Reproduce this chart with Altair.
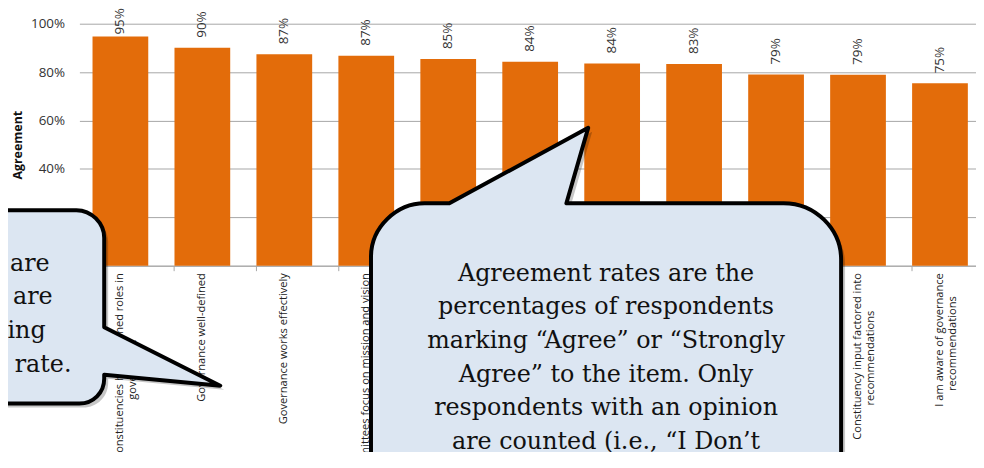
import altair as alt
import pandas as pd

NB = "\u00a0"
ZW = "\u200b"

# ---- data ----
line1 = [
    "Constituencies have defined roles in",
    "Governance well-defined",
    "Governance works effectively",
    "Committees focus on mission and vision",
    "Governance process is transparent",
    "Committee charges are clear",
    "Committees are representative",
    "Communication about governance is effective",
    "Governance structure is appropriate",
    "Constituency input factored into",
    "I am aware of governance",
]
line2 = ["governance", "", "", "", "", "", "", "", "", "recommendations", "recommendations"]
line2_pad = [23, 0, 0, 0, 0, 0, 0, 0, 0, 13, 8]
values = [94.7, 90.1, 87.4, 86.8, 85.4, 84.3, 83.6, 83.4, 79.0, 78.9, 75.4]

callout_big = [
    "Agreement rates are the",
    "percentages of respondents",
    "marking \u201cAgree\u201d or \u201cStrongly",
    "Agree\u201d to the item. Only",
    "respondents with an opinion",
    "are counted (i.e., \u201cI Don\u2019t",
    "Know\u201d responses are excluded).",
]
callout_left = [
    "The items are",
    "sorted so they are",
    "ordered by decreasing",
    "agreement rate.",
]
callout_left_end = [-30, -27, -34, -8]  # right end of each visible line

items = [a + ("|" + b + NB * p + ZW if b else "") for a, b, p in zip(line1, line2, line2_pad)]
df = pd.DataFrame({"item": items, "value": values})

ORANGE = "#E36C0A"
GRID = "#a6a6a6"
FILL = "#dce6f2"

x_enc = alt.X(
    "item:N",
    sort=items,
    scale=alt.Scale(paddingInner=0.32, paddingOuter=0.16),
    axis=alt.Axis(
        title=None,
        labelAngle=270,
        labelFont="Open Sans",
        labelFontSize=11.2,
        labelColor="#222222",
        labelLineHeight=13,
        labelExpr="split(datum.label, '|')",
        labelLimit=0,
        labelOverlap=False,
        labelPadding=2,
        tickSize=5,
        tickColor=GRID,
        domainColor=GRID,
        bandPosition=0,
        zindex=0,
    ),
)

y_axis = alt.Axis(
    title="Agreement",
    values=[0, 20, 40, 60, 80, 100],
    labelExpr="datum.value + '%'",
    grid=True,
    gridColor=GRID,
    domain=False,
    ticks=False,
    labelPadding=15,
    labelFont="Open Sans",
    labelFontSize=13.5,
    labelColor="#333333",
    titleFont="Open Sans",
    titleFontSize=12.5,
    titleFontWeight="bold",
    titleColor="#111111",
    titlePadding=6,
    zindex=0,
)
y_scale = alt.Scale(domain=[0, 100])

base = alt.Chart(df)
bars = base.mark_bar(color=ORANGE).encode(
    x=x_enc,
    y=alt.Y("value:Q", scale=y_scale, axis=y_axis),
)
labels = base.transform_calculate(
    lab="format(datum.value, '.0f') + '%'",
    lab_y="min(datum.value, 91.4)",
).mark_text(
    angle=270, align="left", baseline="middle", dx=10,
    font="Open Sans", fontSize=13.5, color="#333333",
).encode(
    x=x_enc,
    y=alt.Y("lab_y:Q", scale=y_scale, axis=y_axis),
    text="lab:N",
)

one = pd.DataFrame({"k": [0]})

# speech-bubble outlines (pixel paths relative to the plot origin)
big_path = (
    "M 491 181 L 710 181 C 742 181 768 207 768 238 L 768 470 L 294 470 "
    "L 294 235 C 294 205 320 181 348 181 L 373 181 L 513 105 Z"
)
left_path = (
    "M -110 188 L -3 188 C 12 188 25 201 25 216 L 25 306 L 142 365 L 25 354 "
    "L 25 358 C 25 372 14 383 0 383 L -110 383 Z"
)


def bubble(path):
    shadow = alt.Chart(one).mark_point(
        shape=path, size=4, filled=True, fill="#000000", opacity=0.22,
        strokeWidth=0,
    ).encode(x=alt.value(4), y=alt.value(4))
    body = alt.Chart(one).mark_point(
        shape=path, size=4, filled=True, fill=FILL, opacity=1,
        stroke="#000000", strokeWidth=4, strokeJoin="round",
    ).encode(x=alt.value(0), y=alt.value(0))
    return shadow, body


ls, lb = bubble(left_path)
bs, bb = bubble(big_path)

left_texts = [
    alt.Chart(one).mark_text(
        text=t, font="DejaVu Serif", fontSize=24,
        align="right", baseline="top", color="#111111",
    ).encode(x=alt.value(xe), y=alt.value(230 + 34 * i))
    for i, (t, xe) in enumerate(zip(callout_left, callout_left_end))
]

text_big = alt.Chart(one).mark_text(
    text=callout_big, font="DejaVu Serif", fontSize=24, lineHeight=34,
    align="center", baseline="top", color="#111111",
).encode(x=alt.value(531), y=alt.value(240))

chart = alt.layer(
    bars, labels, ls, lb, *left_texts, bs, bb, text_big
).properties(
    width=909,
    height=244,
    autosize=alt.AutoSizeParams(type="none"),
    padding={"left": 72, "top": 14, "right": -5, "bottom": 186},
).configure_view(stroke=None)

chart.save("out.html", embed_options={"renderer": "svg", "actions": False})
